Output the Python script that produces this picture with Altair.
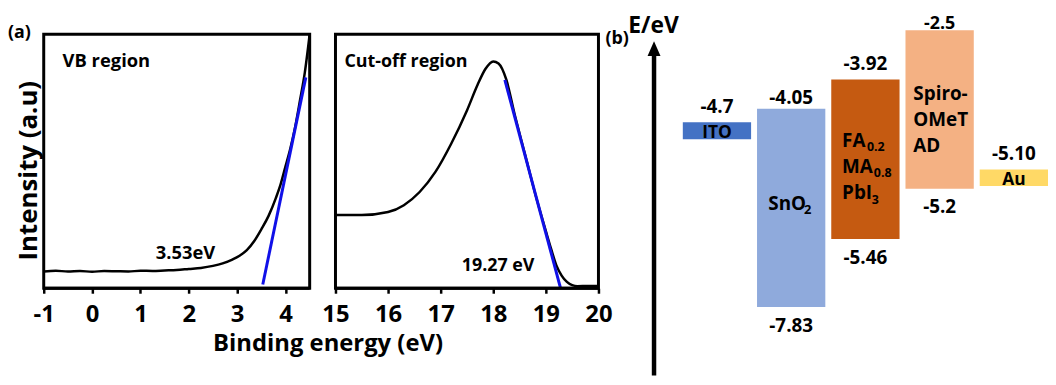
import altair as alt
import pandas as pd

# ---------------- (a) left: VB region ----------------
vb_x = [-1.0, -0.75, -0.5, -0.25, 0.0, 0.25, 0.5, 0.75, 1.0, 1.25, 1.5, 1.75, 2.0, 2.25, 2.5,
        2.7, 2.9, 3.05, 3.2, 3.35, 3.5, 3.65, 3.8, 3.9, 4.0, 4.1, 4.2, 4.3, 4.4, 4.5]
vb_y = [0.066, 0.069, 0.066, 0.068, 0.065, 0.068, 0.067, 0.066, 0.069, 0.068, 0.070, 0.072, 0.076, 0.080, 0.088,
        0.098, 0.113, 0.128, 0.150, 0.185, 0.232, 0.285, 0.355, 0.41, 0.48, 0.55, 0.635, 0.74, 0.85, 1.0]
vb_fit_x = [3.53, 4.42]
vb_fit_y = [0.015, 0.83]
vb_domain = [-1, 4.5]
vb_ticks = [-1, -0.5, 0, 0.5, 1, 1.5, 2, 2.5, 3, 3.5, 4, 4.5]

# ---------------- (a) right: cut-off region ----------------
co_x = [15.0, 15.5, 16.0, 16.3, 16.6, 16.9, 17.2, 17.5, 17.7, 17.85, 18.0, 18.1, 18.25, 18.4,
        18.6, 18.8, 19.0, 19.1, 19.2, 19.3, 19.4, 19.5, 19.6, 19.8, 20.0]
co_y = [0.288, 0.288, 0.30, 0.327, 0.379, 0.458, 0.569, 0.70, 0.80, 0.863, 0.893, 0.885, 0.82, 0.69,
        0.53, 0.37, 0.225, 0.155, 0.09, 0.05, 0.025, 0.012, 0.008, 0.009, 0.009]
co_fit_x = [18.22, 19.28]
co_fit_y = [0.82, 0.0]
co_domain = [15, 20]
co_ticks = [15, 15.5, 16, 16.5, 17, 17.5, 18, 18.5, 19, 19.5, 20]

intensity_domain = [0, 1]

# ---------------- (b) energy level diagram ----------------
materials = ["ITO", "SnO2", "Perovskite", "Spiro", "Au"]
colors = ["#4472C4", "#8FAADC", "#C55A11", "#F4B183", "#FFD966"]
top_label = ["-4.7", "-4.05", "-3.92", "-2.5", "-5.10"]
bottom_label = ["", "-7.83", "-5.46", "-5.2", ""]
# box extents as drawn in the schematic (eV-like units)
drawn_top = [-4.27, -4.01, -3.45, -2.50, -5.18]
drawn_bottom = [-4.60, -7.83, -6.52, -5.55, -5.50]
diagram_domain = [-7.83, -2.5]

FONT = "Open Sans"

# ---------------- scales & axes ----------------
xs1 = alt.Scale(domain=vb_domain, range=[36, 304], nice=False, zero=False)
xs2 = alt.Scale(domain=co_domain, range=[330, 595], nice=False, zero=False)
ys = alt.Scale(domain=intensity_domain, range=[281, 25], nice=False, zero=False)
xs3 = alt.Scale(domain=materials, range=[680, 1048], paddingInner=0.08, paddingOuter=0)
ys3 = alt.Scale(domain=diagram_domain, range=[300, 21], nice=False, zero=False)

label_expr = "datum.value % 1 == 0 ? replace(datum.label, '\u2212', '-') : ''"

common_x_axis = dict(orient="bottom", grid=False, domain=False, ticks=True, tickSize=5, offset=-9,
                     tickWidth=2.5, tickColor="black", tickOpacity=1, labelFont=FONT, labelFontWeight="bold",
                     labelFontSize=24, labelColor="black", labelPadding=9, labelFlush=False,
                     labelOverlap=False, format="d", labelExpr=label_expr)

ax1 = alt.Axis(values=vb_ticks, title="Binding energy (eV)", titleFont=FONT,
               titleFontWeight="bold", titleFontSize=24, titleColor="black",
               titleX=322, titleY=63, titleAlign="center", titleBaseline="alphabetic",
               **common_x_axis)
ay1 = alt.Axis(orient="left", grid=False, domain=False, ticks=False, labels=False,
               title="Intensity (a.u)", titleFont=FONT, titleFontWeight="bold",
               titleFontSize=26, titleColor="black", titleAngle=270, titleX=29, titleY=162,
               titleAlign="center", titleBaseline="alphabetic")
ax2 = alt.Axis(values=co_ticks, title="", **common_x_axis)

frame_df = pd.DataFrame({"k": [0]})


def panel(curve_x, curve_y, fit_x, fit_y, x_dom, xs, ax, ay, labels):
    df_c = pd.DataFrame({"x": curve_x, "y": curve_y})
    df_f = pd.DataFrame({"x": fit_x, "y": fit_y})
    curve = alt.Chart(df_c).mark_line(color="black", strokeWidth=2.5, interpolate="monotone").encode(
        x=alt.X("x:Q", scale=xs, axis=ax), y=alt.Y("y:Q", scale=ys, axis=ay))
    fit = alt.Chart(df_f).mark_line(color="#1010E8", strokeWidth=3).encode(
        x=alt.X("x:Q", scale=xs, axis=ax), y=alt.Y("y:Q", scale=ys, axis=ay))
    frame = alt.Chart(frame_df).mark_rect(fillOpacity=0, stroke="black", strokeWidth=3).encode(
        x=alt.XDatum(x_dom[0], scale=xs, axis=ax), x2=alt.X2Datum(x_dom[1]),
        y=alt.YDatum(intensity_domain[0], scale=ys, axis=ay), y2=alt.Y2Datum(intensity_domain[1]))
    base_line = alt.Chart(frame_df).mark_rule(color="black", strokeWidth=3).encode(
        x=alt.XDatum(x_dom[0], scale=xs, axis=ax), x2=alt.X2Datum(x_dom[1]),
        y=alt.YDatum(intensity_domain[0], scale=ys, axis=ay))
    texts = [alt.Chart(pd.DataFrame({"t": [t]})).mark_text(
        font=FONT, fontWeight="bold", fontSize=fs, align="left", baseline="alphabetic", color="black").encode(
        x=alt.XDatum(tx, scale=xs, axis=ax), y=alt.YDatum(ty, scale=ys, axis=ay), text="t:N")
        for t, tx, ty, fs in labels]
    return alt.layer(curve, fit, frame, base_line, *texts)


panel1 = panel(vb_x, vb_y, vb_fit_x, vb_fit_y, vb_domain, xs1, ax1, ay1,
               [("VB region", -0.61, 0.872, 18.5), ("3.53eV", 1.316, 0.117, 18.5)])
panel2 = panel(co_x, co_y, co_fit_x, co_fit_y, co_domain, xs2, ax2, None,
               [("Cut-off region", 15.17, 0.872, 18), ("19.27 eV", 17.40, 0.066, 18)])

# ---------------- panel (b) ----------------
df3 = pd.DataFrame({"material": materials, "color": colors, "top_label": top_label,
                    "bottom_label": bottom_label, "top": drawn_top, "bottom": drawn_bottom})
base3 = alt.Chart(df3)
X3 = alt.X("material:N", scale=xs3, axis=None)
YT = alt.Y("top:Q", scale=ys3, axis=None)
YB = alt.Y("bottom:Q", scale=ys3, axis=None)

boxes = base3.mark_rect().encode(
    x=X3, y=YT, y2="bottom:Q",
    color=alt.Color("material:N", scale=alt.Scale(domain=materials, range=colors), legend=None))

txt = dict(font=FONT, fontWeight="bold", color="black", baseline="alphabetic")


def top_lab(names, dy, fs=19):
    return base3.mark_text(fontSize=fs, dy=dy, **txt).encode(
        x=X3, y=YT, text="top_label:N").transform_filter(
        alt.FieldOneOfPredicate(field="material", oneOf=names))


top_lab_ito = top_lab(["ITO"], -9)
top_lab_sno = top_lab(["SnO2"], -5)
top_lab_spiro = top_lab(["Spiro"], -1.5, 18)
top_lab_pa = top_lab(["Perovskite", "Au"], -10)

bot_lab = base3.mark_text(fontSize=19, dy=25, **txt).encode(
    x=X3, y=YB, text="bottom_label:N").transform_filter("datum.bottom_label != ''")
thin_names = base3.mark_text(fontSize=17.5, dy=-1, **txt).encode(
    x=X3, y=YB, text="material:N").transform_filter(
    alt.FieldOneOfPredicate(field="material", oneOf=["ITO", "Au"]))

sno2 = base3.transform_filter(alt.datum.material == "SnO2").transform_calculate(
    mid="(datum.top + datum.bottom) / 2")
sno_main = sno2.mark_text(fontSize=19, align="left", dx=-23, dy=2.5, text="SnO", **txt).encode(
    x=X3, y=alt.Y("mid:Q", scale=ys3, axis=None))
sno_sub = sno2.mark_text(fontSize=13, align="left", dx=13, dy=6.5, text="2", **txt).encode(
    x=X3, y=alt.Y("mid:Q", scale=ys3, axis=None))

pv = base3.transform_filter(alt.datum.material == "Perovskite")
pv_parts = [
    ("FA", 19, -23.5, 68), ("0.2", 12.5, 1.5, 72),
    ("MA", 19, -23.5, 94), ("0.8", 12.5, 8.5, 98),
    ("PbI", 19, -23.5, 120), ("3", 12.5, 6.5, 125),
]
pv_layers = [pv.mark_text(fontSize=fs, align="left", dx=dx, dy=dy, text=t, **txt).encode(
    x=X3, y=YT) for t, fs, dx, dy in pv_parts]

spiro = base3.transform_filter(alt.datum.material == "Spiro").mark_text(
    fontSize=19, align="left", dx=-26.5, dy=70, lineBreak="\n", lineHeight=26.5,
    text="Spiro-\nOMeT\nAD", **txt).encode(x=X3, y=YT)

deco_df = pd.DataFrame({"k": [0]})
arrow_shaft = alt.Chart(deco_df).mark_rule(color="black", strokeWidth=4.5).encode(
    x=alt.value(651), y=alt.value(46), y2=alt.value(369))
arrow_head = alt.Chart(deco_df).mark_point(
    shape="M0,-1L0.87,1L-0.87,1Z", filled=True, color="black", opacity=1, size=225, strokeWidth=0).encode(
    x=alt.value(651), y=alt.value(39.5))
e_label = alt.Chart(pd.DataFrame({"t": ["E/eV"]})).mark_text(
    fontSize=23, align="left", **txt).encode(x=alt.value(625), y=alt.value(24), text="t:N")
b_label = alt.Chart(pd.DataFrame({"t": ["(b)"]})).mark_text(
    fontSize=18, align="left", **txt).encode(x=alt.value(602), y=alt.value(35), text="t:N")
a_label = alt.Chart(pd.DataFrame({"t": ["(a)"]})).mark_text(
    fontSize=18, align="left", **txt).encode(x=alt.value(0), y=alt.value(29), text="t:N")

panel3 = alt.layer(boxes, top_lab_ito, top_lab_sno, top_lab_spiro, top_lab_pa, bot_lab, thin_names,
                   sno_main, sno_sub, *pv_layers, spiro, arrow_shaft, arrow_head, e_label, b_label, a_label)

chart = alt.layer(panel1, panel2, panel3).resolve_scale(
    x="independent", y="independent"
).properties(
    width=1048, height=290,
    padding={"left": 0, "top": 0, "right": 0, "bottom": 79},
    autosize=alt.AutoSizeParams(type="none"),
    background="white",
).configure(font=FONT, view=alt.ViewConfig(stroke="transparent"))

chart.save("out.html", embed_options={"renderer": "svg", "actions": False})
